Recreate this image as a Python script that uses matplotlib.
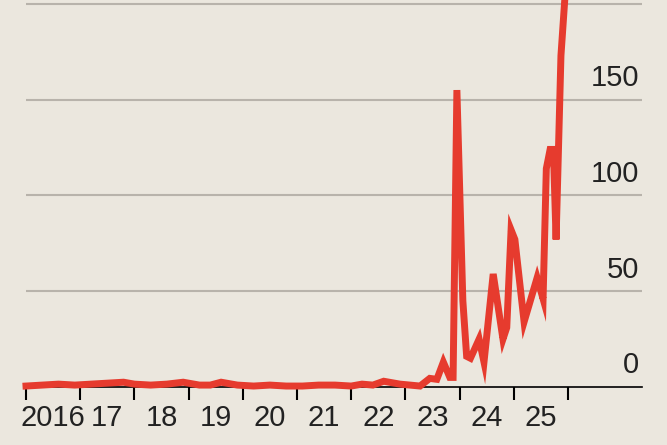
import matplotlib
matplotlib.use("Agg")
import matplotlib.pyplot as plt
from matplotlib import font_manager

names = {f.name for f in font_manager.fontManager.ttflist}
fam = "Liberation Sans Narrow" if "Liberation Sans Narrow" in names else "Liberation Sans"
plt.rcParams['font.family'] = [fam, 'DejaVu Sans']

years = [2016.0, 2016.3, 2016.6, 2016.9, 2017.2, 2017.5, 2017.8, 2018.0, 2018.3, 2018.6, 2018.9,
         2019.2, 2019.4, 2019.6, 2019.9, 2020.2, 2020.5, 2020.8, 2021.1, 2021.4, 2021.7, 2022.0,
         2022.2, 2022.4, 2022.6, 2022.9, 2023.27, 2023.45, 2023.58, 2023.7, 2023.82, 2023.88,
         2023.95, 2024.06, 2024.13, 2024.2, 2024.36, 2024.45, 2024.62, 2024.8, 2024.87, 2024.95,
         2025.02, 2025.19, 2025.43, 2025.54, 2025.6, 2025.67, 2025.73, 2025.78, 2025.87, 2025.94]
values = [0.5, 1, 1.5, 1, 1.5, 2, 2.5, 1.5, 1, 1.5, 2.5,
          1, 1, 2.5, 1, 0.5, 1, 0.5, 0.5, 1, 1, 0.5,
          1.5, 1, 3, 1.5, 0.5, 4.5, 4, 13, 5, 5,
          155, 45, 16, 15, 25, 13, 59, 25, 31, 82,
          77, 34, 57, 46, 114, 124, 124, 77, 173, 202]
yticks = [0, 50, 100, 150, 200]
xlabels = ["2016", "17", "18", "19", "20", "21", "22", "23", "24", "25"]

bg = "#ebe7de"
fig = plt.figure(figsize=(6.67, 4.45), dpi=100, facecolor=bg)
ax = fig.add_axes([26/667, 58/445, (642-26)/667, 387/445], facecolor=bg)
ax.plot(years, values, color="#e63b2e", lw=5, solid_joinstyle="miter", clip_on=False, zorder=3)
ax.set_xlim(2016, 2016 + (642-26)/54.2)
ax.set_ylim(0, 202)
for y in yticks:
    if y > 0:
        ax.axhline(y, color="#b8b3ab", lw=1.5, zorder=1)
    ax.text(0.995, y + 4, str(y), transform=ax.get_yaxis_transform(), ha="right", va="bottom",
            fontsize=21, color="#222222")
for s in ["top", "right", "left"]:
    ax.spines[s].set_visible(False)
ax.spines["bottom"].set_linewidth(1.2)
ax.set_yticks([])
ax.set_xticks(range(2016, 2027))
ax.set_xticklabels([])
ax.tick_params(axis="x", which="major", length=9, width=1.5, direction="out")
ax.set_xticks([y + 0.5 for y in range(2016, 2026)], minor=True)
ax.set_xticklabels(xlabels, minor=True, fontsize=21, color="#222222")
ax.tick_params(axis="x", which="minor", length=0, pad=12)
fig.savefig("out.png", dpi=100, facecolor=bg)
